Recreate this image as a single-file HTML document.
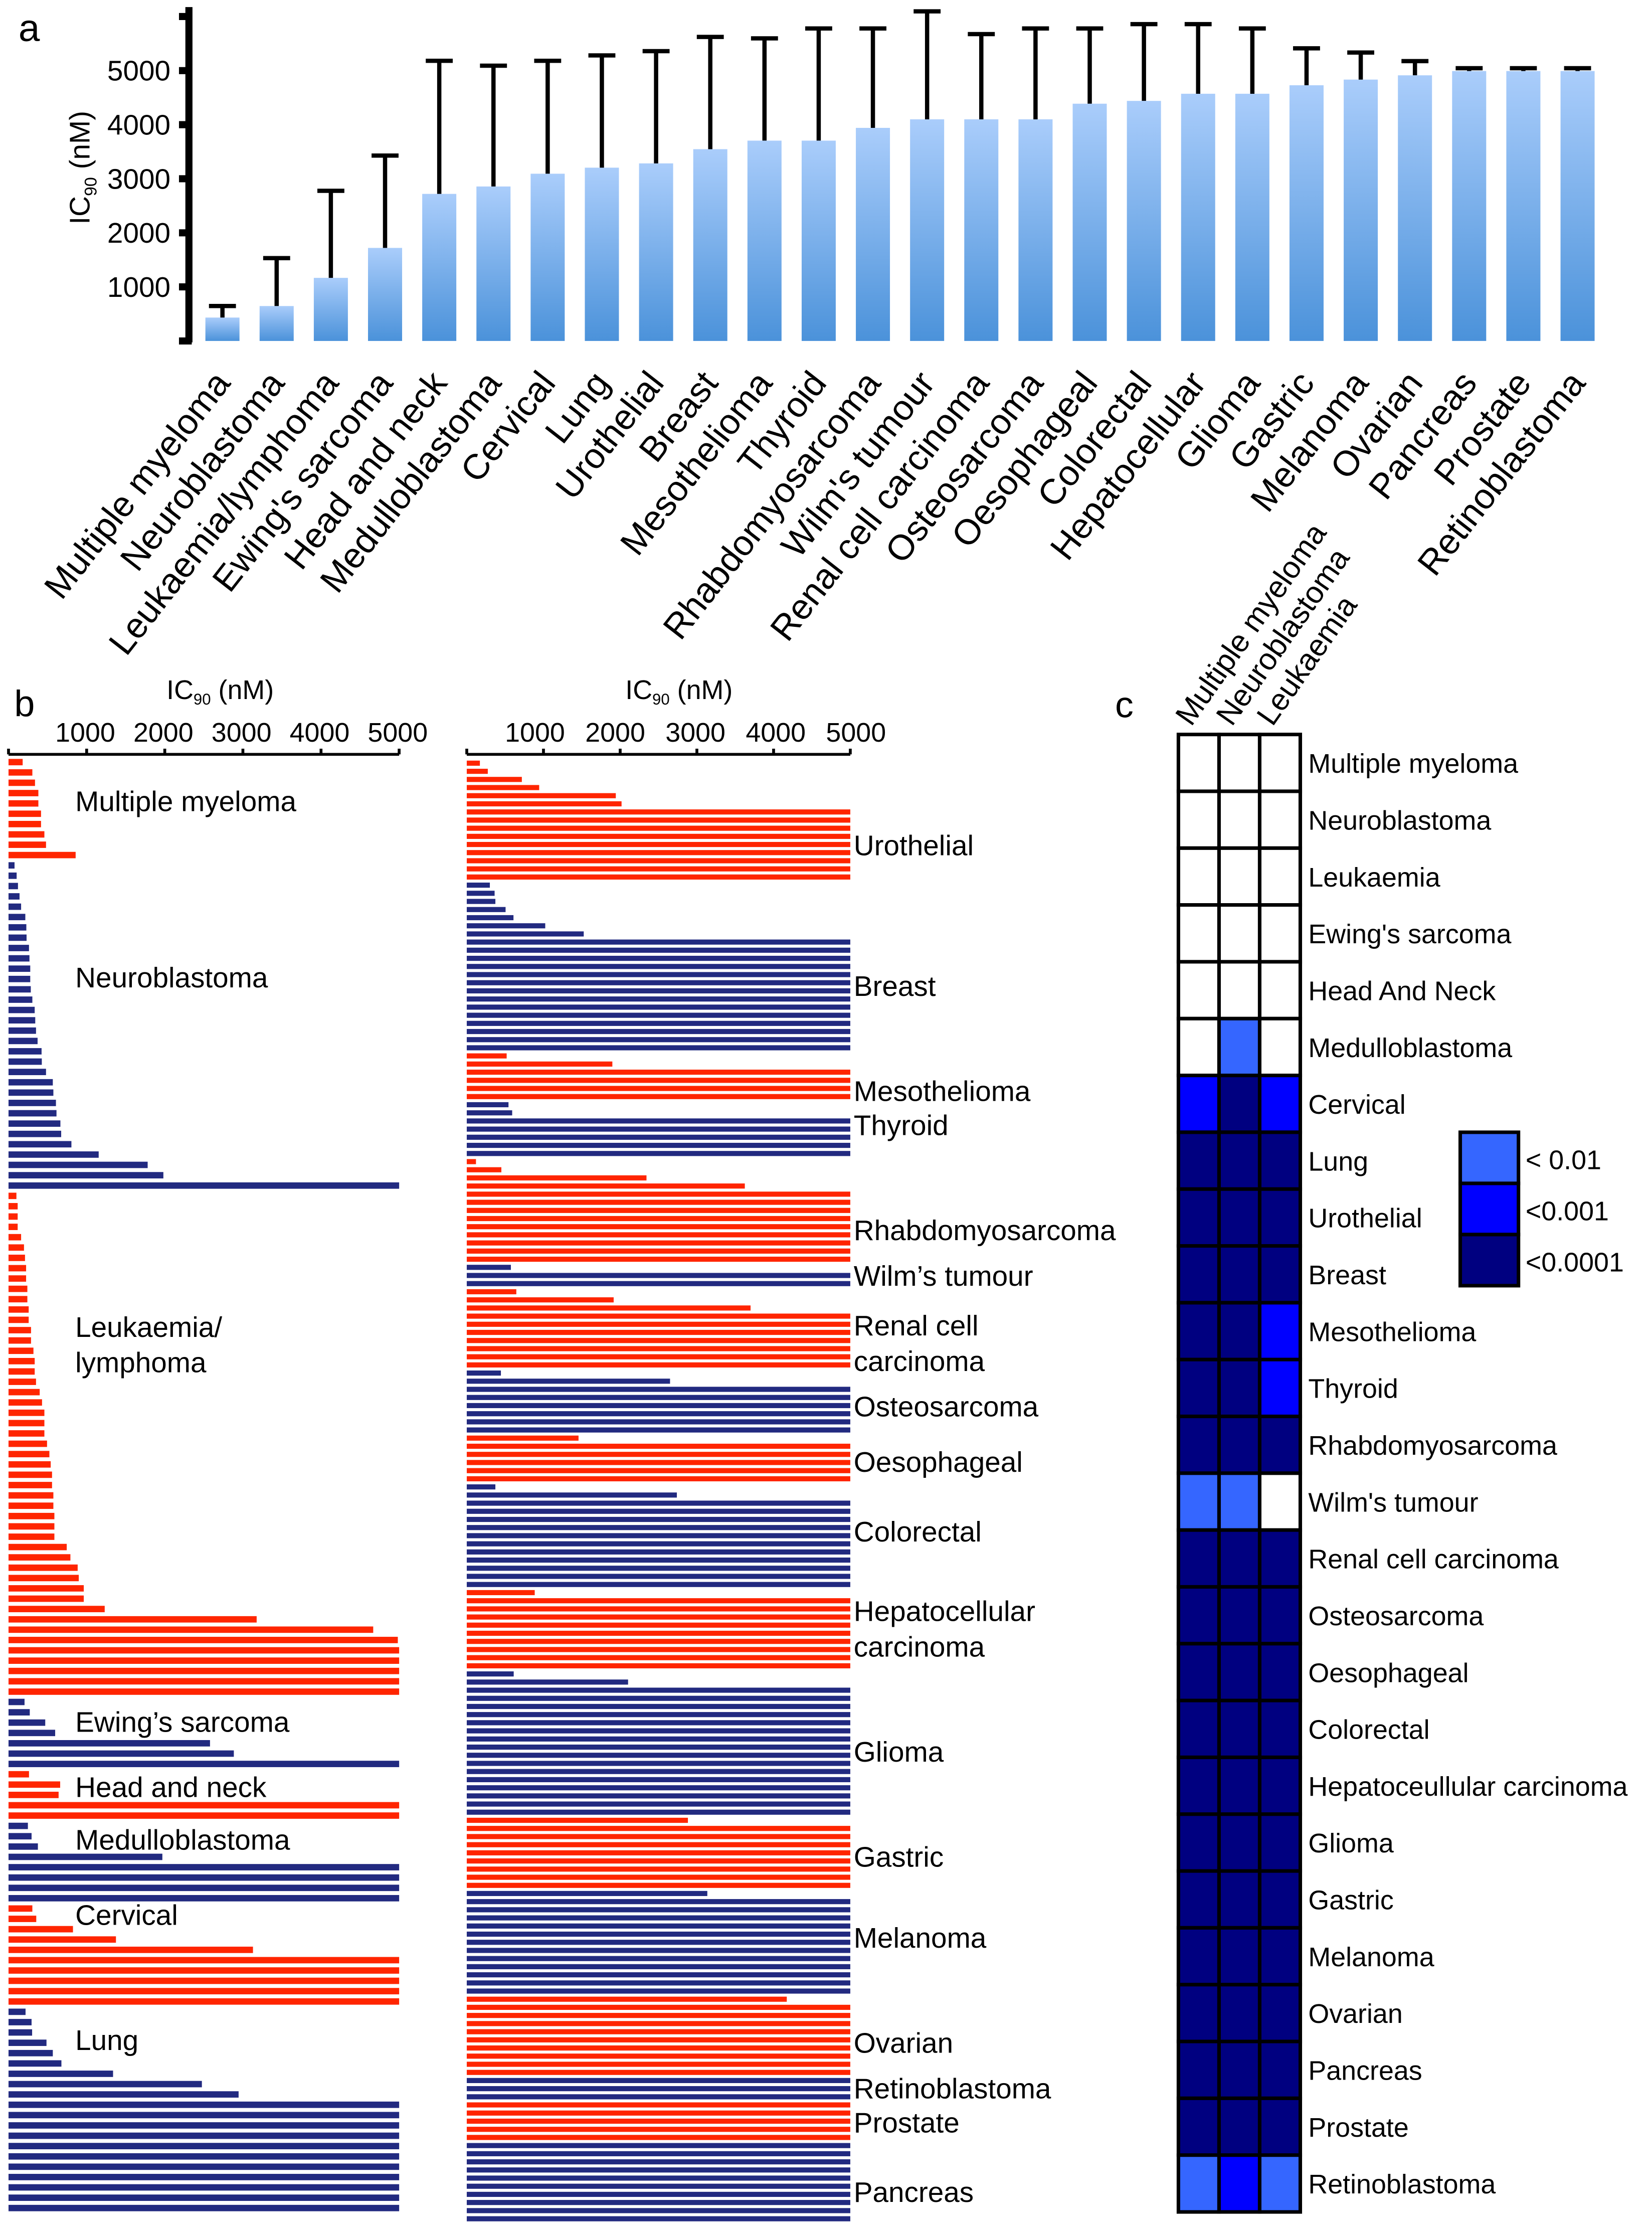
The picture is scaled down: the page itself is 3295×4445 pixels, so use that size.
<!DOCTYPE html>
<html><head><meta charset="utf-8">
<style>
html,body{margin:0;padding:0;background:#fff;}
svg{display:block;}
text{font-family:"Liberation Sans",sans-serif;fill:#000;}
</style></head>
<body>
<svg id="fig" xmlns="http://www.w3.org/2000/svg" width="3295" height="4445" viewBox="0 0 1163 1569" preserveAspectRatio="none">
<defs>
<linearGradient id="barGrad" x1="0" y1="0" x2="0" y2="1">
<stop offset="0" stop-color="#aacdfb"/><stop offset="1" stop-color="#4b92da"/>
</linearGradient>
</defs>
<g id="pa"></g>
<g id="pb"></g>
<g id="pc"></g>
</svg>
<script>
// ---------- Panel a data ----------
const aCategories = ["Multiple myeloma","Neuroblastoma","Leukaemia/lymphoma","Ewing's sarcoma","Head and neck","Medulloblastoma","Cervical","Lung","Urothelial","Breast","Mesothelioma","Thyroid","Rhabdomyosarcoma","Wilm's tumour","Renal cell carcinoma","Osteosarcoma","Oesophageal","Colorectal","Hepatocellular","Glioma","Gastric","Melanoma","Ovarian","Pancreas","Prostate","Retinoblastoma"];
const aMeans = [433,646,1167,1721,2720,2857,3093,3205,3284,3547,3705,3705,3941,4099,4099,4099,4388,4440,4572,4572,4729,4834,4913,4992,4992,4992];
const aErrTop = [646,1532,2777,3429,5181,5091,5181,5281,5360,5623,5596,5780,5780,6096,5675,5780,5780,5859,5859,5780,5412,5334,5176,5045,5045,5045];
const aTicks = [1000,2000,3000,4000,5000];

// ---------- Panel b data (left column) ----------
const bLeftGroups = ["Multiple myeloma","Neuroblastoma","Leukaemia/lymphoma","Ewing's sarcoma","Head and neck","Medulloblastoma","Cervical","Lung"];
const bMyeloma = [181,305,339,382,382,416,416,459,480,859];
const bNeuroblastoma = [77,104,121,141,161,215,228,231,262,268,278,278,285,305,335,342,352,372,423,426,480,567,574,607,614,664,674,805,1154,1781,1982,5000];
const bLeukaemia = [101,117,117,117,161,198,211,225,225,241,241,258,258,288,288,319,335,335,352,399,429,459,459,459,493,523,540,557,557,574,574,587,587,587,745,792,885,899,963,963,1231,3176,4668,4983,5000,5000,5000,5000,5000];
const bEwing = [205,272,470,597,2579,2884,5000];
const bHeadNeck = [262,661,641,5000,5000];
const bMedullo = [248,295,376,1969,5000,5000,5000,5000];
const bCervical = [305,355,825,1375,3129,5000,5000,5000,5000,5000];
const bLung = [218,295,302,486,567,677,1338,2475,2945,5000,5000,5000,5000,5000,5000,5000,5000,5000,5000,5000];
// ---------- Panel b data (right column) ----------
const bRightGroups = ["Urothelial","Breast","Mesothelioma","Thyroid","Rhabdomyosarcoma","Wilm's tumour","Renal cell carcinoma","Osteosarcoma","Oesophageal","Colorectal","Hepatocellular carcinoma","Glioma","Gastric","Melanoma","Ovarian","Retinoblastoma","Prostate","Pancreas"];
const bUrothelial = [171,274,718,944,1943,2018,5000,5000,5000,5000,5000,5000,5000,5000,5000];
const bBreast = [301,363,373,506,609,1023,1525,5000,5000,5000,5000,5000,5000,5000,5000,5000,5000,5000,5000,5000,5000];
const bMeso = [520,1898,5000,5000,5000,5000];
const bThyroid = [544,592,5000,5000,5000,5000,5000];
const bRhabdo = [120,451,2343,3625,5000,5000,5000,5000,5000,5000,5000,5000,5000];
const bWilms = [575,5000,5000];
const bRenal = [646,1915,3700,5000,5000,5000,5000,5000,5000,5000];
const bOsteo = [445,2650,5000,5000,5000,5000,5000,5000];
const bOeso = [1457,5000,5000,5000,5000,5000];
const bColorectal = [373,2739,5000,5000,5000,5000,5000,5000,5000,5000,5000,5000,5000];
const bHepato = [886,5000,5000,5000,5000,5000,5000,5000,5000,5000];
const bGlioma = [612,2103,5000,5000,5000,5000,5000,5000,5000,5000,5000,5000,5000,5000,5000,5000,5000,5000];
const bGastric = [2883,5000,5000,5000,5000,5000,5000,5000,5000];
const bMelanoma = [3136,5000,5000,5000,5000,5000,5000,5000,5000,5000,5000,5000,5000];
const bOvarian = [4172,5000,5000,5000,5000,5000,5000,5000,5000,5000];
const bRetino = [5000,5000,5000];
const bProstate = [5000,5000,5000,5000,5000];
const bPancreas = [5000,5000,5000,5000,5000,5000,5000,5000,5000,5000];
const bTicks = [1000,2000,3000,4000,5000];

// ---------- Panel c data ----------
const cColumns = ["Multiple myeloma","Neuroblastoma","Leukaemia"];
const cRows = ["Multiple myeloma","Neuroblastoma","Leukaemia","Ewing's sarcoma","Head And Neck","Medulloblastoma","Cervical","Lung","Urothelial","Breast","Mesothelioma","Thyroid","Rhabdomyosarcoma","Wilm's tumour","Renal cell carcinoma","Osteosarcoma","Oesophageal","Colorectal","Hepatoceullular carcinoma","Glioma","Gastric","Melanoma","Ovarian","Pancreas","Prostate","Retinoblastoma"];
// 0 = n.s., 1 = <0.01, 2 = <0.001, 3 = <0.0001
const cLevels = [[0,0,0],[0,0,0],[0,0,0],[0,0,0],[0,0,0],[0,1,0],[2,3,2],[3,3,3],[3,3,3],[3,3,3],[3,3,2],[3,3,2],[3,3,3],[1,1,0],[3,3,3],[3,3,3],[3,3,3],[3,3,3],[3,3,3],[3,3,3],[3,3,3],[3,3,3],[3,3,3],[3,3,3],[3,3,3],[1,2,1]];
const cLegendLabels = ["< 0.01","<0.001","<0.0001"];

const NS = "http://www.w3.org/2000/svg";
function mk(tag, parent, attrs){const e=document.createElementNS(NS,tag);for(const k in attrs)e.setAttribute(k,attrs[k]);parent.appendChild(e);return e;}
const RED="#ff2500", BLUE="#222a80";
const cellColors=["#ffffff","#3566ff","#0000ff","#000080"];

// ================= Panel a =================
const pa=document.getElementById('pa');
const aX0=156.6, aStep=38.16, aBarW=24;
function ax(i){return aX0+i*aStep;}
function ay(v){return 240 - v*0.03806;}
let t=mk('text',pa,{x:13,y:29,'font-size':27});t.textContent='a';


let l=mk('line',pa,{x1:133,y1:5,x2:133,y2:241,stroke:'#000','stroke-width':5});


[0,1000,2000,3000,4000,5000,6000].forEach(v=>{
  const tk=mk('line',pa,{x1:126,y1:ay(v),x2:135,y2:ay(v),stroke:'#000','stroke-width':5});
  
  
});
aTicks.forEach(v=>{
  const tl=mk('text',pa,{x:120,y:ay(v)+7,'font-size':20,'text-anchor':'end'});
  tl.textContent=v;
  
  
});
t=mk('text',pa,{x:0,y:0,'font-size':20,'text-anchor':'middle',transform:'translate(63,118) rotate(-90)'});
t.innerHTML='IC<tspan font-size="12" dy="5">90</tspan><tspan dy="-5"> (nM)</tspan>';


aCategories.forEach((c,i)=>{
  const x=ax(i);
  const b=mk('rect',pa,{x:x-aBarW/2,y:ay(aMeans[i]),width:aBarW,height:ay(0)-ay(aMeans[i]),fill:'url(#barGrad)'});
  
  
  const e=mk('line',pa,{x1:x,y1:ay(aMeans[i]),x2:x,y2:ay(aErrTop[i]),stroke:'#000','stroke-width':3});
  
  
  const cap=mk('line',pa,{x1:x-9.5,y1:ay(aErrTop[i]),x2:x+9.5,y2:ay(aErrTop[i]),stroke:'#000','stroke-width':3});
  
  
  const lb=mk('text',pa,{x:0,y:0,'font-size':25,'text-anchor':'end',transform:'translate('+(x+6.5)+',270) rotate(-52)'});
  lb.textContent=c;
  
  
});

// ================= Panel b =================
const pb=document.getElementById('pb');
t=mk('text',pb,{x:10,y:504,'font-size':26});t.textContent='b';


function drawHBars(groups, datasets, x0, xw, yTop, pitch, h, axisY, titleX, labels, side, lblShift){
  const xs=v=>x0+v/5000*xw;
  const ax=mk('line',pb,{x1:x0,y1:axisY,x2:x0+xw,y2:axisY,stroke:'#000','stroke-width':2});
  
  
  [0].concat(bTicks).forEach(v=>{
    const tk=mk('line',pb,{x1:xs(v),y1:axisY,x2:xs(v),y2:axisY-4,stroke:'#000','stroke-width':2});
    
    
  });
  bTicks.forEach(v=>{
    const tl=mk('text',pb,{x:xs(v)-1+lblShift*(v-3000)/1000,y:522,'font-size':19,'text-anchor':'middle'});
    tl.textContent=v;
    
    
  });
  const tt=mk('text',pb,{x:titleX,y:492,'font-size':19,'text-anchor':'middle'});
  tt.innerHTML='IC<tspan font-size="11" dy="4">90</tspan><tspan dy="-4"> (nM)</tspan>';
  
  
  let idx=0;
  datasets.forEach((arr,g)=>{
    const col=g%2===0?RED:BLUE;
    arr.forEach(v=>{
      const r=mk('rect',pb,{x:x0,y:yTop+idx*pitch,width:xs(v)-x0,height:h,fill:col});
      
      
      idx++;
    });
  });
  labels.forEach(L=>{
    const tx=mk('text',pb,{x:L[1],y:L[2],'font-size':20});
    tx.textContent=L[0];
    
    
  });
}
drawHBars(bLeftGroups,[bMyeloma,bNeuroblastoma,bLeukaemia,bEwing,bHeadNeck,bMedullo,bCervical,bLung],
  6,275,534.2,7.27,4.5,531,155,
  [["Multiple myeloma",53,571],["Neuroblastoma",53,695],["Leukaemia/",53,941],["lymphoma",53,966],["Ewing\u2019s sarcoma",53,1219],["Head and neck",53,1265],["Medulloblastoma",53,1302],["Cervical",53,1355],["Lung",53,1443]],'left',0);
drawHBars(bRightGroups,[bUrothelial,bBreast,bMeso,bThyroid,bRhabdo,bWilms,bRenal,bOsteo,bOeso,bColorectal,bHepato,bGlioma,bGastric,bMelanoma,bOvarian,bRetino,bProstate,bPancreas],
  328.6,270,535.4,5.724,3.6,531,478,
  [["Urothelial",601,602],["Breast",601,701],["Mesothelioma",601,775],["Thyroid",601,799],["Rhabdomyosarcoma",601,873],["Wilm\u2019s tumour",601,905],["Renal cell",601,940],["carcinoma",601,965],["Osteosarcoma",601,997],["Oesophageal",601,1036],["Colorectal",601,1085],["Hepatocellular",601,1141],["carcinoma",601,1166],["Glioma",601,1240],["Gastric",601,1314],["Melanoma",601,1371],["Ovarian",601,1445],["Retinoblastoma",601,1477],["Prostate",601,1501],["Pancreas",601,1550]],'right',2.5);

// ================= Panel c =================
const pc=document.getElementById('pc');
t=mk('text',pc,{x:785,y:505,'font-size':26});t.textContent='c';


const cX0=829.6, cW=28.6, cY0=517, cH=40;
cColumns.forEach((c,j)=>{
  const tx=mk('text',pc,{x:0,y:0,'font-size':21.5,transform:'translate('+(cX0+9+j*cW)+',512) rotate(-55)'});
  tx.textContent=c;
  
  
});
cRows.forEach((r,i)=>{
  cLevels[i].forEach((lv,j)=>{
    const rc=mk('rect',pc,{x:cX0+j*cW,y:cY0+i*cH,width:cW,height:cH,fill:cellColors[lv],stroke:'#000','stroke-width':2.5});
    
    
  });
  const tx=mk('text',pc,{x:921,y:cY0+i*cH+27,'font-size':19});
  tx.textContent=r;
  
  
});
const lgY=[797,833,869];
cLegendLabels.forEach((lab,k)=>{
  const rc=mk('rect',pc,{x:1028,y:lgY[k],width:41,height:36,fill:cellColors[k+1],stroke:'#000','stroke-width':2.5});
  
  
  const tx=mk('text',pc,{x:1074,y:lgY[k]+26,'font-size':19});
  tx.textContent=lab;
  
  
});
</script>
</body></html>
